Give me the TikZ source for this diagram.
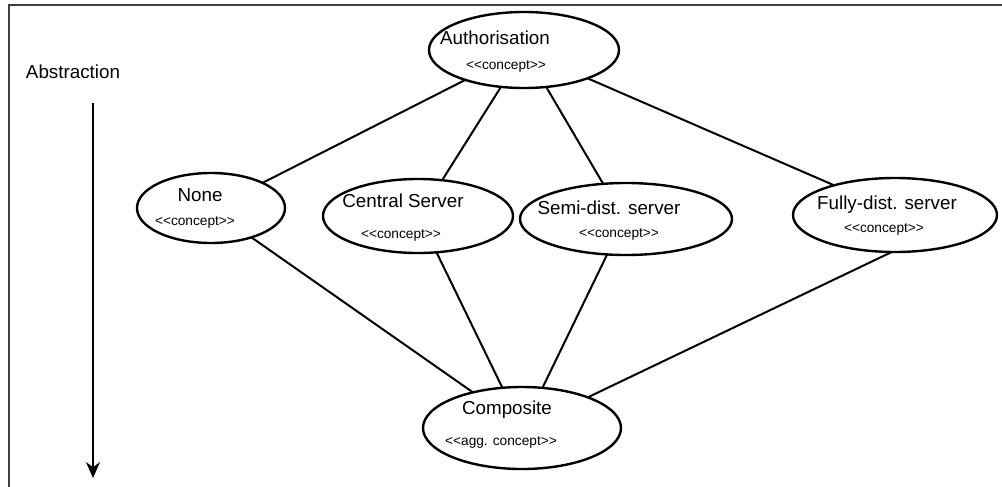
\documentclass[tikz,border=0pt]{standalone}
\usepackage{fontspec}
\setmainfont{Liberation Sans}
\usetikzlibrary{shapes.geometric,arrows.meta}
\tikzset{
  concept/.style={
    shape = ellipse,
    draw,
    line width = 1.2pt,
    inner sep = 0pt,
    outer sep = 0pt
  },
}
\tikzset{
  link/.style={
    line width = 1pt,
    line cap = round
  },
  cname/.style={
    font = \fontsize{9.4}{11}\selectfont,
    inner sep = 1pt
  },
  stereo/.style={
    font = \fontsize{6.85}{8}\selectfont,
    inner sep = 1pt
  }
}
\newcommand{\stype}[1]{<\kern0pt<#1>\kern0pt>}

\begin{document}
\begin{tikzpicture}[x=0.5pt,y=0.5pt]
        \useasboundingbox (0,0) rectangle (1002,-487);
        \draw[line width=0.8pt, black!75] (9,-487) -- (9,-5) -- (1002,-5);

        \node[cname] (abstr) at (73,-72) {Abstraction};
        \coordinate (arrtop) at (93,-103);
        \coordinate (arrbot) at (93,-478);
        \draw[line width=1pt, -{Stealth[length=8pt,width=7pt]}] (arrtop) -- (arrbot);

        \node[concept, minimum width=95pt, minimum height=38pt] (auth) at (524,-50) {};
        \node[concept, minimum width=74pt, minimum height=35pt] (none) at (211,-208) {};
        \node[concept, minimum width=95pt, minimum height=37pt] (central) at (418,-216) {};
        \node[concept, minimum width=106pt, minimum height=36pt] (semi) at (626,-219) {};
        \node[concept, minimum width=102pt, minimum height=37pt] (fully) at (895,-215) {};
        \node[concept, minimum width=99pt, minimum height=41pt] (composite) at (522,-428) {};

        \draw[link] (auth.207) -- (none.26);
        \draw[link] (auth.238) -- (central.56);
        \draw[link] (auth.301) -- (semi.123);
        \draw[link] (auth.336) -- (fully.154);
        \draw[link] (none.-36) -- (composite.144);
        \draw[link] (central.-63) -- (composite.116);
        \draw[link] (semi.242) -- (composite.63);
        \draw[link] (fully.265) -- (composite.25);

        \node[cname] (authname) at (495,-38) {Authorisation};
        \node[stereo] (authtype) at (506,-66) {\stype{concept}};
        \node[cname] (nonename) at (200,-195) {None};
        \node[stereo] (nonetype) at (195,-222) {\stype{concept}};
        \node[cname] (centralname) at (403,-201) {Central Server};
        \node[stereo] (centraltype) at (401,-235) {\stype{concept}};
        \node[cname] (seminame) at (609,-208) {Semi-dist. server};
        \node[stereo] (semitype) at (619,-234) {\stype{concept}};
        \node[cname] (fullyname) at (887,-205) {Fully-dist. server};
        \node[stereo] (fullytype) at (884,-229) {\stype{concept}};
        \node[cname] (compname) at (507,-410) {Composite};
        \node[stereo] (comptype) at (501,-442) {\stype{agg. concept}};
    \end{tikzpicture}
\end{document}
